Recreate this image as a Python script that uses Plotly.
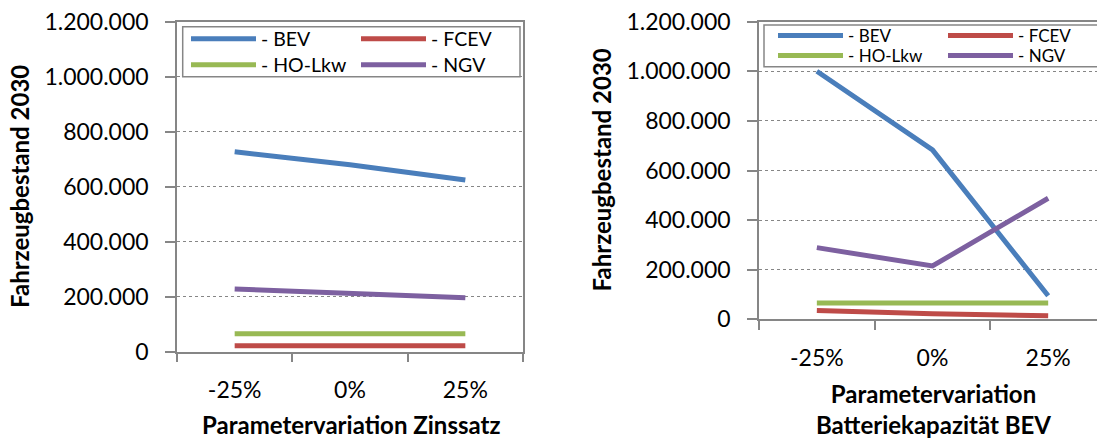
import plotly.graph_objects as go

categories = ["-25%", "0%", "25%"]
series_names = ["- BEV", "- FCEV", "- HO-Lkw", "- NGV"]
colors = ["#4A7EBB", "#BE4B48", "#98B954", "#7D60A0"]

# Left chart: Parametervariation Zinssatz
left_bev = [727000, 680000, 624000]
left_fcev = [22000, 22000, 22000]
left_holkw = [65000, 65000, 65000]
left_ngv = [228000, 212000, 196000]

# Right chart: Parametervariation Batteriekapazität BEV
right_bev = [1000000, 683000, 95000]
right_fcev = [35000, 22000, 14500]
right_holkw = [66000, 66000, 66000]
right_ngv = [289000, 215000, 488000]

y_title = "Fahrzeugbestand 2030"
x_title_left = "Parametervariation Zinssatz"
x_title_right = "Parametervariation<br>Batteriekapazität BEV"
y_ticks = [0, 200000, 400000, 600000, 800000, 1000000, 1200000]

W, H = 1097, 439
FONT = "Lato"
GRAY = "#868686"

def px(x):
    return x / W

def py(y):
    return 1 - y / H

fig = go.Figure()

left_data = [left_bev, left_fcev, left_holkw, left_ngv]
right_data = [right_bev, right_fcev, right_holkw, right_ngv]
left_leg = ["legend", "legend", "legend2", "legend2"]
right_leg = ["legend3", "legend3", "legend4", "legend4"]

for i, name in enumerate(series_names):
    fig.add_trace(go.Scatter(x=categories, y=left_data[i], name=name, mode="lines",
                             line=dict(color=colors[i], width=5), xaxis="x", yaxis="y",
                             legend=left_leg[i]))
for i, name in enumerate(series_names):
    fig.add_trace(go.Scatter(x=categories, y=right_data[i], name=name, mode="lines",
                             line=dict(color=colors[i], width=5), xaxis="x2", yaxis="y2",
                             legend=right_leg[i]))

def xaxis_style(rng):
    return dict(type="category", tickson="boundaries", ticks="outside", ticklen=9,
                tickcolor=GRAY, tickwidth=1.5, showline=True, linecolor=GRAY,
                linewidth=1.5, showgrid=False, tickfont=dict(family=FONT, size=23, color="black"),
                range=rng, mirror=True, ticklabelstandoff=17, automargin=False)

def yaxis_style(mirror):
    return dict(range=[0, 1200000], tickvals=y_ticks, tickformat=",d", ticks="outside",
                ticklen=10, tickcolor=GRAY, tickwidth=1.5, showline=True,
                linecolor=GRAY, linewidth=1.5, mirror=mirror, showgrid=True,
                gridcolor=GRAY, griddash="dot", gridwidth=1,
                tickfont=dict(family=FONT, size=23, color="black"), zeroline=False,
                ticklabelstandoff=12, automargin=False)

cat_w = 115.67
right_end = -0.5 + (W - 759) / cat_w

fig.update_layout(
    width=W, height=H, margin=dict(l=0, r=0, t=0, b=0, autoexpand=False),
    paper_bgcolor="white", plot_bgcolor="white", separators=",.",
    font=dict(family=FONT, color="black"),
    xaxis=dict(domain=[px(177), px(523)], anchor="y", **xaxis_style([-0.5, 2.5])),
    yaxis=dict(domain=[py(351.7), py(21.7)], anchor="x", **yaxis_style(True)),
    xaxis2=dict(domain=[px(759), 1.0], anchor="y2", **xaxis_style([-0.5, right_end])),
    yaxis2=dict(domain=[py(319.3), py(21.7)], anchor="x2", **yaxis_style(False)),
)

leg_common = dict(orientation="h", bgcolor="rgba(0,0,0,0)", borderwidth=0,
                  xanchor="left", yanchor="middle", entrywidthmode="pixels",
                  itemwidth=65, entrywidth=90,
                  tracegroupgap=0, itemclick=False, itemdoubleclick=False)
fig.update_layout(
    legend=dict(x=px(186), y=py(39), font=dict(family=FONT, size=19.5), **leg_common),
    legend2=dict(x=px(186), y=py(65), font=dict(family=FONT, size=19.5), **leg_common),
    legend3=dict(x=px(773), y=py(36), font=dict(family=FONT, size=17), **leg_common),
    legend4=dict(x=px(773), y=py(56), font=dict(family=FONT, size=17), **leg_common),
)

fig.add_shape(type="rect", xref="paper", yref="paper", x0=px(182.7), x1=px(520), y0=py(76.7), y1=py(26.7),
              line=dict(color=GRAY, width=1.5), fillcolor="white", layer="above")
fig.add_shape(type="rect", xref="paper", yref="paper", x0=px(764), x1=1.01, y0=py(66.7), y1=py(25),
              line=dict(color=GRAY, width=1.5), fillcolor="white", layer="above")

title_font = dict(family=FONT, size=24, color="black", weight="bold")
fig.add_annotation(text=y_title, xref="paper", yref="paper", x=px(19.5), y=py(186.5), textangle=-90,
                   xanchor="center", yanchor="middle", showarrow=False, font=title_font)
fig.add_annotation(text=y_title, xref="paper", yref="paper", x=px(601), y=py(170.5), textangle=-90,
                   xanchor="center", yanchor="middle", showarrow=False, font=title_font)
fig.add_annotation(text=x_title_left, xref="paper", yref="paper", x=px(351), y=py(424.5),
                   xanchor="center", yanchor="middle", showarrow=False, font=title_font)
fig.add_annotation(text=x_title_right, xref="paper", yref="paper", x=px(933), y=py(408.5),
                   xanchor="center", yanchor="middle", showarrow=False, font=title_font)

fig.write_html("out.html")
